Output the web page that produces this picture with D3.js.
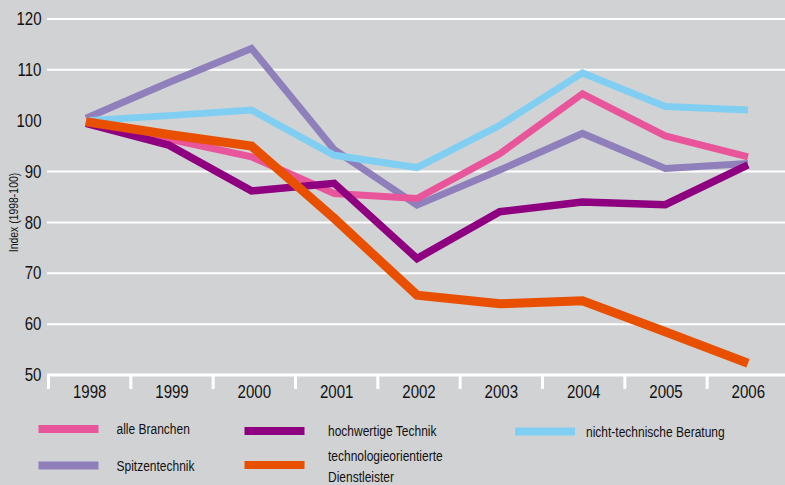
<!DOCTYPE html>
<html><head><meta charset="utf-8">
<script src="https://cdn.jsdelivr.net/npm/d3@7"></script>
<style>
html,body{margin:0;padding:0;background:#d1d2d4;}
svg{display:block;font-family:"Liberation Sans",Arial,sans-serif;}
</style></head>
<body><svg id="c" width="785" height="485"></svg>
<script>
const years = ["1998","1999","2000","2001","2002","2003","2004","2005","2006"];
const yTicks = [50,60,70,80,90,100,110,120];
const gridTicks = [60,70,80,90,110,120];
const alleBranchen = [100,96.4,92.9,85.7,84.7,93.5,105.3,97.0,92.9];
const hochwertigeTechnik = [99.5,95.2,86.2,87.7,72.9,82.1,84.0,83.5,91.3];
const spitzentechnik = [100.5,107.5,114.2,94.3,83.4,90.3,97.5,90.6,91.6];
const nichtTechnischeBeratung = [100,101,102.1,93.2,90.8,99.1,109.4,102.8,102.1];
const dienstleister = [99.8,97.3,95.0,80.8,65.7,64.0,64.6,58.5,52.3];

const series = [
  {name:"Spitzentechnik", values:spitzentechnik, color:"#8f7fbb", w:7},
  {name:"nicht-technische Beratung", values:nichtTechnischeBeratung, color:"#80cff2", w:7},
  {name:"alle Branchen", values:alleBranchen, color:"#e8559a", w:7},
  {name:"hochwertige Technik", values:hochwertigeTechnik, color:"#8e0080", w:7.5},
  {name:"technologieorientierte Dienstleister", values:dienstleister, color:"#e85000", w:9}
];

const svg = d3.select("#c");
const y = d3.scaleLinear().domain([50,120]).range([375,19]);
const xBand = d3.scaleBand().domain(years).range([48.5,789.5]);
const xPt = d3.scalePoint().domain(years).range([86,748]);

// condensed text helper
function txt(parent, x, yy, s, size, anchor, sx, rot){
  const g = parent.append("g").attr("transform",`translate(${x},${yy})` + (rot?` rotate(${rot})`:"") + ` scale(${sx},1)`);
  g.append("text").attr("x",0).attr("y",0).attr("dy","0.35em")
    .attr("text-anchor",anchor).attr("font-size",size).attr("fill","#111").text(s);
  return g;
}

// gridlines
svg.append("g").selectAll("line").data(gridTicks).join("line")
  .attr("x1",47).attr("x2",785).attr("y1",d=>y(d)).attr("y2",d=>y(d))
  .attr("stroke","#fff").attr("stroke-width",2);

// y labels
const yl = svg.append("g");
yTicks.forEach(v=>txt(yl, 41.5, y(v), String(v), 17.5, "end", 0.86));

// y title
txt(svg, 13.5, 212.5, "Index (1998-100)", 12, "middle", 0.87, -90);

// x axis line and ticks
svg.append("line").attr("x1",47).attr("x2",785).attr("y1",375).attr("y2",375)
  .attr("stroke","#fff").attr("stroke-width",3);
svg.append("g").selectAll("line").data(years).join("line")
  .attr("x1",d=>xBand(d)).attr("x2",d=>xBand(d)).attr("y1",374).attr("y2",389)
  .attr("stroke","#fff").attr("stroke-width",3);
const xl = svg.append("g");
years.forEach(d=>txt(xl, xBand(d)+xBand.bandwidth()/2, 392, d, 17.5, "middle", 0.86));

// lines
const line = d3.line().x((d,i)=>xPt(years[i])).y(d=>y(d));
svg.append("g").selectAll("path").data(series).join("path")
  .attr("d",d=>line(d.values)).attr("fill","none")
  .attr("stroke",d=>d.color).attr("stroke-width",d=>d.w)
  .attr("stroke-linejoin","miter").attr("stroke-linecap","butt");

// legend
const legend = [
  {lines:["alle Branchen"], color:"#e8559a", x:38.5, y:429, tx:116.5, ty:[429]},
  {lines:["hochwertige Technik"], color:"#8e0080", x:244.5, y:431, tx:328, ty:[431]},
  {lines:["nicht-technische Beratung"], color:"#80cff2", x:515, y:431.5, tx:586, ty:[431.5]},
  {lines:["Spitzentechnik"], color:"#8f7fbb", x:38.5, y:465.5, tx:116.5, ty:[465.5]},
  {lines:["technologieorientierte","Dienstleister"], color:"#e85000", x:244.5, y:465, tx:328, ty:[456,477]}
];
const lg = svg.append("g");
legend.forEach(d=>{
  lg.append("rect").attr("x",d.x).attr("y",d.y-4).attr("width",60).attr("height",8).attr("fill",d.color);
  d.lines.forEach((s,i)=>txt(lg, d.tx, d.ty[i], s, 15, "start", 0.8));
});
</script></body></html>
